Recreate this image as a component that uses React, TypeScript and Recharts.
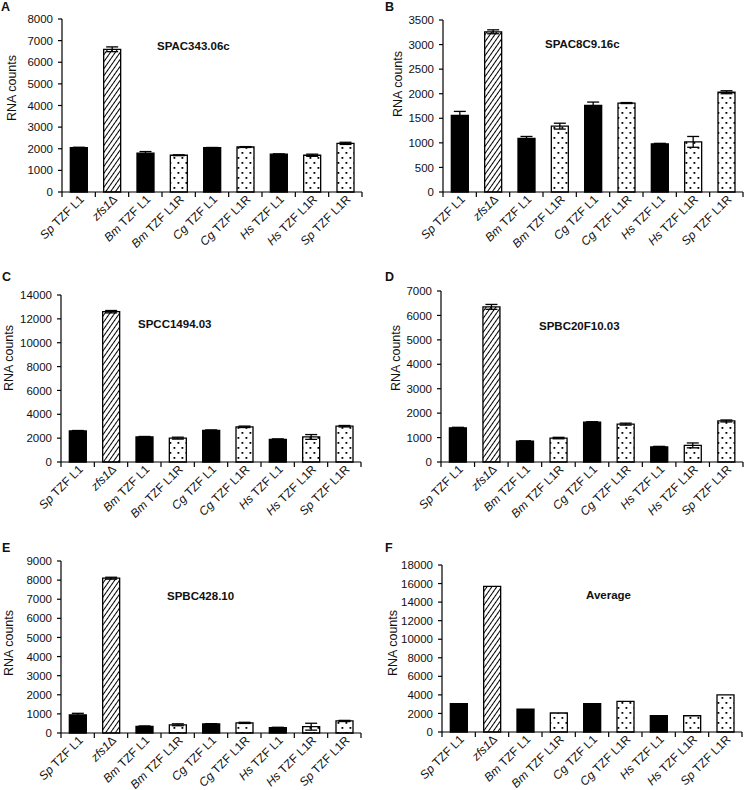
import React from "react";
import { BarChart, Bar, XAxis, YAxis, Cell, ErrorBar } from "recharts";

const FONT = '"Liberation Sans", Arial, sans-serif';

const categories = [
  "Sp TZF L1",
  "zfs1Δ",
  "Bm TZF L1",
  "Bm TZF L1R",
  "Cg TZF L1",
  "Cg TZF L1R",
  "Hs TZF L1",
  "Hs TZF L1R",
  "Sp TZF L1R",
];

// values
const spac34306cCounts = [2050, 6600, 1800, 1700, 2050, 2080, 1750, 1700, 2250];
const spac34306cErrors = [20, 110, 70, 20, 10, 20, 10, 50, 50];

const spac8c916cCounts = [1560, 3260, 1090, 1340, 1760, 1810, 980, 1020, 2030];
const spac8c916cErrors = [80, 40, 40, 60, 70, 10, 10, 110, 30];

const spcc149403Counts = [2600, 12600, 2100, 2000, 2650, 2950, 1900, 2100, 3000];
const spcc149403Errors = [40, 100, 40, 80, 40, 60, 40, 200, 60];

const spbc20f1003Counts = [1400, 6350, 850, 980, 1630, 1550, 620, 680, 1680];
const spbc20f1003Errors = [20, 100, 20, 30, 20, 40, 20, 100, 40];

const spbc42810Counts = [950, 8100, 350, 430, 470, 530, 280, 330, 630];
const spbc42810Errors = [80, 50, 20, 50, 20, 30, 20, 180, 30];

const averageCounts = [3050, 15700, 2450, 2050, 3050, 3300, 1750, 1750, 4000];

const ticksA = [0, 1000, 2000, 3000, 4000, 5000, 6000, 7000, 8000];
const ticksB = [0, 500, 1000, 1500, 2000, 2500, 3000, 3500];
const ticksC = [0, 2000, 4000, 6000, 8000, 10000, 12000, 14000];
const ticksD = [0, 1000, 2000, 3000, 4000, 5000, 6000, 7000];
const ticksE = [0, 1000, 2000, 3000, 4000, 5000, 6000, 7000, 8000, 9000];
const ticksF = [0, 2000, 4000, 6000, 8000, 10000, 12000, 14000, 16000, 18000];

const barFills = [
  "#000",
  "url(#hatch)",
  "#000",
  "url(#dots)",
  "#000",
  "url(#dots)",
  "#000",
  "url(#dots)",
  "url(#dots)",
];

const panels = [
  { letter: "A", title: "SPAC343.06c", counts: spac34306cCounts, errors: spac34306cErrors, ticks: ticksA },
  { letter: "B", title: "SPAC8C9.16c", counts: spac8c916cCounts, errors: spac8c916cErrors, ticks: ticksB },
  { letter: "C", title: "SPCC1494.03", counts: spcc149403Counts, errors: spcc149403Errors, ticks: ticksC },
  { letter: "D", title: "SPBC20F10.03", counts: spbc20f1003Counts, errors: spbc20f1003Errors, ticks: ticksD },
  { letter: "E", title: "SPBC428.10", counts: spbc42810Counts, errors: spbc42810Errors, ticks: ticksE },
  { letter: "F", title: "Average", counts: averageCounts, errors: null, ticks: ticksF },
];

// panel boxes on the page
const boxes = [
  { left: 0, top: 0, w: 372, h: 260, yW: 62, mTop: 19, mRight: 10, xH: 68, lx: 1, ly: 11, tx: 157, ty: 50, ax: 12, ay: 88 },
  { left: 372, top: 0, w: 373, h: 260, yW: 71, mTop: 20, mRight: 2, xH: 68, lx: 13, ly: 11, tx: 173, ty: 48, ax: 26, ay: 84 },
  { left: 0, top: 260, w: 372, h: 270, yW: 61, mTop: 35, mRight: 11, xH: 68, lx: 2, ly: 21, tx: 138, ty: 68, ax: 9, ay: 98 },
  { left: 372, top: 260, w: 373, h: 270, yW: 69, mTop: 31, mRight: 2, xH: 68, lx: 13, ly: 21, tx: 167, ty: 70, ax: 24, ay: 98 },
  { left: 0, top: 520, w: 372, h: 270, yW: 61, mTop: 41, mRight: 11, xH: 57, lx: 2, ly: 32, tx: 167, ty: 80, ax: 9, ay: 123 },
  { left: 372, top: 520, w: 373, h: 270, yW: 70, mTop: 45, mRight: 3, xH: 58, lx: 13, ly: 32, tx: 214, ty: 79, ax: 21, ay: 123 },
];

function labelParts(label: string): [string, boolean][] {
  if (label.startsWith("zfs1")) return [["zfs1", true], [label.slice(4), false]];
  const sp = label.indexOf(" ");
  return [[label.slice(0, sp), true], [label.slice(sp), false]];
}

const XTick = (props: any) => {
  const { x, y, payload, index, visibleTicksCount } = props;
  const half = payload && payload.offset ? payload.offset : 16.7;
  const last = index === (visibleTicksCount || categories.length) - 1;
  const tx = x + 6;
  const ty = y + 8;
  return (
    <g>
      <line x1={x - half} y1={y} x2={x - half} y2={y + 5} stroke="#000" strokeWidth={1.2} />
      {last && <line x1={x + half} y1={y} x2={x + half} y2={y + 5} stroke="#000" strokeWidth={1.2} />}
      <text
        x={tx}
        y={ty}
        textAnchor="end"
        transform={`rotate(-45, ${tx}, ${ty})`}
        fontSize={12}
        fontFamily={FONT}
        fill="#111"
        style={{ whiteSpace: "pre" }}
      >
        {labelParts(payload.value).map(([t, it], i) => (
          <tspan key={i} fontStyle={it ? "italic" : "normal"}>
            {t}
          </tspan>
        ))}
      </text>
    </g>
  );
};

function Panel({ panel, box }: any) {
  const data = categories.map((name, i) => ({
    name,
    value: panel.counts[i],
    err: panel.errors ? panel.errors[i] : 0,
  }));
  const max = panel.ticks[panel.ticks.length - 1];
  return (
    <div style={{ position: "absolute", left: box.left, top: box.top, width: box.w, height: box.h }}>
      <BarChart
        width={box.w}
        height={box.h}
        data={data}
        margin={{ top: box.mTop, right: box.mRight, bottom: 0, left: 0 }}
        barCategoryGap="25%"
      >
        <XAxis
          dataKey="name"
          height={box.xH}
          interval={0}
          tickLine={false}
          tickSize={0}
          tickMargin={0}
          axisLine={{ stroke: "#000", strokeWidth: 1.2 }}
          tick={<XTick />}
        />
        <YAxis
          type="number"
          width={box.yW}
          domain={[0, max]}
          ticks={panel.ticks}
          interval={0}
          tickSize={4}
          tickMargin={5}
          axisLine={{ stroke: "#000", strokeWidth: 1.2 }}
          tickLine={{ stroke: "#000", strokeWidth: 1.2 }}
          tick={{ fontSize: 11.5, fill: "#111", fontFamily: FONT }}
        />
        <Bar dataKey="value" isAnimationActive={false} stroke="#000" strokeWidth={1.3}>
          {data.map((_, i) => (
            <Cell key={i} fill={barFills[i]} />
          ))}
          {panel.errors && (
            <ErrorBar dataKey="err" direction="y" width={6} stroke="#000" strokeWidth={1.3} isAnimationActive={false} />
          )}
        </Bar>
      </BarChart>
      <svg
        width={box.w}
        height={box.h}
        style={{ position: "absolute", left: 0, top: 0, pointerEvents: "none" }}
      >
        <text x={box.lx} y={box.ly} fontSize={12.5} fontWeight="bold" fontFamily={FONT} fill="#111">
          {panel.letter}
        </text>
        <text x={box.tx} y={box.ty} fontSize={11.5} fontWeight="bold" fontFamily={FONT} fill="#111">
          {panel.title}
        </text>
        <text
          x={box.ax}
          y={box.ay}
          fontSize={12.5}
          fontFamily={FONT}
          fill="#111"
          textAnchor="middle"
          dominantBaseline="central"
          transform={`rotate(-90, ${box.ax}, ${box.ay})`}
        >
          RNA counts
        </text>
      </svg>
    </div>
  );
}

export default function App() {
  return (
    <div
      style={{
        position: "absolute",
        left: 0,
        top: 0,
        width: 745,
        height: 790,
        background: "#fff",
        overflow: "hidden",
        fontFamily: FONT,
      }}
    >
      <svg width={0} height={0} style={{ position: "absolute" }}>
        <defs>
          <pattern id="hatch" patternUnits="userSpaceOnUse" width={4} height={4} patternTransform="rotate(35)">
            <rect width={4} height={4} fill="#fff" />
            <line x1={0} y1={0} x2={0} y2={4} stroke="#000" strokeWidth={2} />
          </pattern>
          <pattern id="dots" patternUnits="userSpaceOnUse" width={8} height={10}>
            <rect width={8} height={10} fill="#fff" />
            <rect x={1.5} y={2} width={1.8} height={1.8} fill="#000" />
            <rect x={5.5} y={7} width={1.8} height={1.8} fill="#000" />
          </pattern>
        </defs>
      </svg>
      {panels.map((p, i) => (
        <Panel key={p.letter} panel={p} box={boxes[i]} />
      ))}
    </div>
  );
}
